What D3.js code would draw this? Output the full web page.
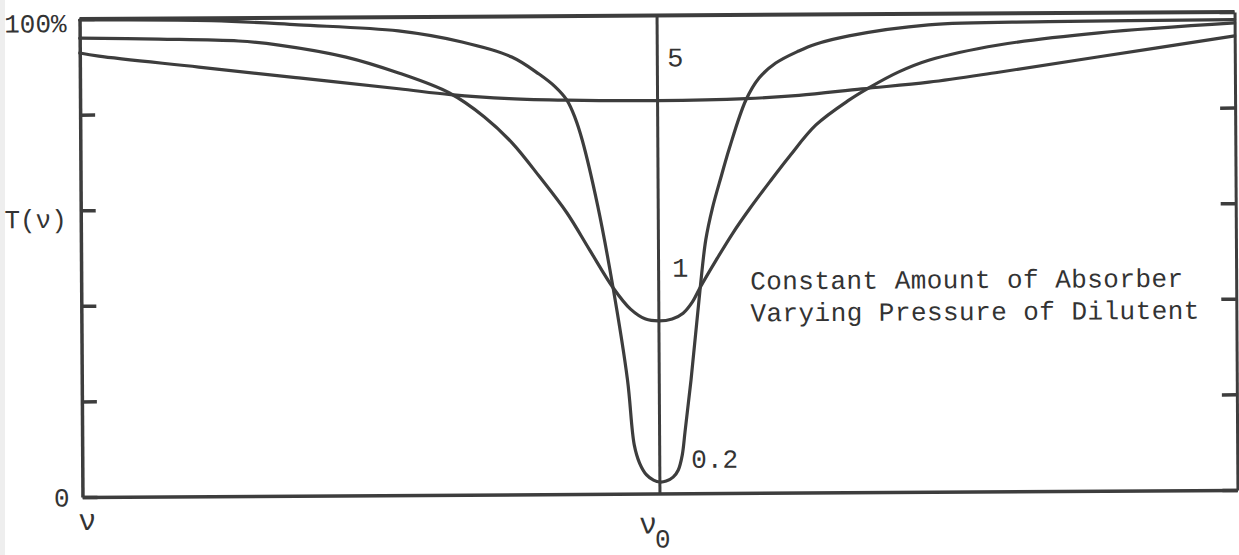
<!DOCTYPE html>
<html>
<head>
<meta charset="utf-8">
<script src="https://cdn.jsdelivr.net/npm/d3@7"></script>
<style>
  html, body { margin: 0; padding: 0; background: #ffffff; }
  svg { display: block; }
  text { font-family: "Liberation Mono", "DejaVu Sans Mono", monospace; fill: #333333; }
</style>
</head>
<body>
<svg id="chart" width="1239" height="555"></svg>
<script>
// Frequency offset from line centre (ν − ν0, arbitrary units, −1 … 1)
// and transmittance T(ν) in percent, for three dilutent pressures.
const seriesLabels = ["5", "1", "0.2"];

const offset5 = [-1.000, -0.967, -0.794, -0.621, -0.448, -0.358, -0.257, -0.157, 0.000,
                 0.153, 0.245, 0.354, 0.470, 0.591, 0.765, 1.000];
const trans5  = [92.9, 92.2, 89.8, 87.4, 85.0, 83.7, 82.8, 82.4, 82.2,
                 82.5, 83.1, 84.4, 85.7, 87.7, 90.8, 95.0];

const offset1 = [-1.000, -0.863, -0.725, -0.655, -0.539, -0.448, -0.361, -0.300, -0.252,
                 -0.205, -0.158, -0.119, -0.079, -0.049, -0.023, 0.000, 0.023, 0.042,
                 0.058, 0.072, 0.100, 0.129, 0.158, 0.193, 0.228, 0.274, 0.332, 0.366,
                 0.418, 0.470, 0.591, 0.765, 1.000];
const trans1  = [96.0, 95.7, 95.2, 94.3, 91.7, 88.3, 84.1, 79.0, 73.5,
                 66.4, 58.8, 51.0, 43.1, 38.6, 36.5, 36.1, 36.5, 37.7,
                 40.0, 43.1, 48.8, 54.4, 59.4, 65.0, 70.4, 76.9, 82.1, 84.6,
                 87.9, 90.3, 93.4, 95.8, 97.7];

const offset02 = [-1.000, -0.771, -0.621, -0.448, -0.338, -0.252, -0.205, -0.177, -0.157,
                  -0.143, -0.131, -0.105, -0.079, -0.055, -0.044, -0.035, -0.023, -0.011,
                  0.000, 0.011, 0.023, 0.032, 0.039, 0.044, 0.055, 0.072, 0.082, 0.094,
                  0.110, 0.124, 0.153, 0.176, 0.205, 0.245, 0.274, 0.332, 0.470, 0.678,
                  1.000];
const trans02  = [99.8, 99.5, 98.5, 97.1, 94.7, 91.5, 87.9, 85.2, 82.4,
                  78.7, 74.1, 60.4, 43.1, 23.8, 10.2, 6.4, 3.9, 2.8,
                  2.4, 2.6, 3.4, 4.9, 8.0, 12.8, 23.7, 43.1, 53.0, 59.7,
                  66.5, 72.2, 82.2, 86.8, 89.9, 92.4, 93.8, 95.5, 97.7, 98.2,
                  98.4];

// Axis ticks and labels
const yTickValues = [0, 20, 40, 60, 80, 100];
const yTickLabels = ["0", "", "", "", "", "100%"];
const yTitle = "T(ν)";
const xTickValues = [-1, 0];
const xTickLabels = ["ν", "ν"];
const xTickSubscripts = ["", "0"];
const noteLines = ["Constant Amount of Absorber", "Varying Pressure of Dilutent"];

const ink = "#3d3d3d";

const svg = d3.select("#chart");
svg.append("rect").attr("width", 1239).attr("height", 555).attr("fill", "#ffffff");
svg.append("rect").attr("x", 0).attr("y", 0).attr("width", 5).attr("height", 555).attr("fill", "#eeeeee");

const x = d3.scaleLinear().domain([-1, 1]).range([81, 1236]);
const y = d3.scaleLinear().domain([0, 100]).range([493.5, 15.5]);

// the whole figure sits at a very slight tilt
const g = svg.append("g").attr("transform", "rotate(-0.35,658.5,254.5)");

// left axis, ticks pointing inward
const left = g.append("g")
  .attr("transform", `translate(${x(-1)},0)`)
  .call(d3.axisLeft(y).tickValues(yTickValues).tickSizeInner(-15).tickSizeOuter(0)
        .tickPadding(13).tickFormat((d, i) => yTickLabels[i]));
left.select(".domain").attr("stroke", ink).attr("stroke-width", 3.5);
left.selectAll(".tick line").attr("stroke", ink).attr("stroke-width", 3.5);
left.selectAll(".tick text")
  .attr("font-size", 26).attr("font-family", null).attr("fill", "#333")
  .attr("dy", d => d === 100 ? "0.48em" : "0.34em");

// right axis, ticks pointing inward
const right = g.append("g")
  .attr("transform", `translate(${x(1)},0)`)
  .call(d3.axisRight(y).tickValues(yTickValues).tickSizeInner(-15).tickSizeOuter(0)
        .tickFormat(() => ""));
right.select(".domain").attr("stroke", ink).attr("stroke-width", 3);
right.selectAll(".tick line").attr("stroke", ink).attr("stroke-width", 3.5);

// bottom axis with ν and ν0
const bottom = g.append("g")
  .attr("transform", `translate(0,${y(0)})`)
  .call(d3.axisBottom(x).tickValues(xTickValues).tickSize(0).tickFormat(() => ""));
bottom.select(".domain").attr("stroke", ink).attr("stroke-width", 3.5);
bottom.selectAll(".tick").each(function (d, i) {
  const t = d3.select(this).select("text")
    .attr("font-size", 30).attr("font-family", null).attr("fill", "#333")
    .attr("dy", null).attr("y", i === 0 ? 33 : 40)
    .attr("x", i === 0 ? 4 : -6)
    .text(xTickLabels[i]);
  if (xTickSubscripts[i]) {
    t.append("tspan").attr("font-size", 26).attr("dy", 14).attr("dx", -2).text(xTickSubscripts[i]);
  }
});

// top border at 100 %
g.append("line")
  .attr("x1", x(-1)).attr("x2", x(1)).attr("y1", y(100)).attr("y2", y(100))
  .attr("stroke", ink).attr("stroke-width", 4);

// line-centre marker at ν0
g.append("line")
  .attr("x1", x(0)).attr("x2", x(0)).attr("y1", y(100)).attr("y2", y(0))
  .attr("stroke", ink).attr("stroke-width", 3);

// y title
g.append("text")
  .attr("x", x(-1) - 14).attr("y", y(60) + 17.5)
  .attr("text-anchor", "end").attr("font-size", 26)
  .text(yTitle);

// transmission curves
const line = d3.line()
  .x(d => x(d[0])).y(d => y(d[1]))
  .curve(d3.curveCatmullRom.alpha(0.5));

const curves = [
  d3.zip(offset5, trans5),
  d3.zip(offset1, trans1),
  d3.zip(offset02, trans02)
];

g.selectAll("path.curve").data(curves).join("path")
  .attr("class", "curve")
  .attr("d", line)
  .attr("fill", "none")
  .attr("stroke", ink)
  .attr("stroke-width", 3.2)
  .attr("stroke-linejoin", "round")
  .attr("stroke-linecap", "round");

// pressure labels next to each curve's centre
const labelPos = [
  { dx: 10, y: y(trans5[offset5.indexOf(0)]) - 34, size: 27 },
  { dx: 13.5, y: y(d3.min(trans1)) - 44, size: 27 },
  { dx: 31.5, y: y(d3.min(trans02)) - 14, size: 26 }
];
g.selectAll("text.plabel").data(seriesLabels).join("text")
  .attr("class", "plabel")
  .attr("x", (d, i) => x(0) + labelPos[i].dx)
  .attr("y", (d, i) => labelPos[i].y)
  .attr("font-size", (d, i) => labelPos[i].size)
  .text(d => d);

// annotation
g.selectAll("text.note").data(noteLines).join("text")
  .attr("class", "note")
  .attr("x", 750)
  .attr("y", (d, i) => 290 + i * 32)
  .attr("font-size", 26)
  .attr("letter-spacing", 0.45)
  .text(d => d);
</script>
</body>
</html>
